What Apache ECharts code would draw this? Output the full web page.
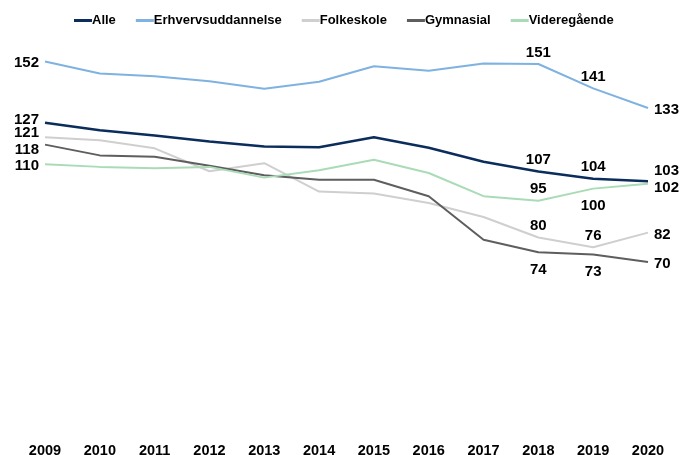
<!DOCTYPE html>
<html>
<head>
<meta charset="utf-8">
<script src="https://cdn.jsdelivr.net/npm/echarts@6/dist/echarts.min.js"></script>
<style>
  html, body { margin: 0; padding: 0; background: #fff; }
  #chart { width: 685px; height: 455px; }
</style>
</head>
<body>
<div id="chart"></div>
<script>
const years = ['2009', '2010', '2011', '2012', '2013', '2014', '2015', '2016', '2017', '2018', '2019', '2020'];
const seriesNames = ['Alle', 'Erhvervsuddannelse', 'Folkeskole', 'Gymnasial', 'Videregående'];
const alle = [127, 123.9, 121.7, 119.3, 117.2, 116.9, 121, 116.7, 111, 107, 104, 103];
const erhverv = [152, 147.1, 146, 143.9, 140.9, 143.7, 150.1, 148.2, 151.2, 151, 141, 133];
const folkeskole = [121, 119.8, 116.5, 107.1, 110.4, 98.8, 98, 94.1, 88.4, 80, 76, 82];
const gymnasial = [118, 113.6, 113, 109.4, 105.5, 103.6, 103.6, 96.9, 79.1, 74, 73, 70];
const videregaende = [110, 108.9, 108.3, 108.9, 104.5, 107.5, 111.8, 106.4, 96.9, 95, 100, 102];

const colors = ['#0b2d5c', '#7fb2e0', '#cfcfcf', '#5e5e5e', '#a9dcb6'];
const widths = [2.5, 2, 2, 2, 2];

// which points get a value label, and where: [index, position, offsetY]
const labelSpots = [
    [[0, 'left', -3], [9, 'top', 0], [10, 'top', 0], [11, 'right', -10]],
    [[0, 'left', 1], [9, 'top', 0], [10, 'top', 0], [11, 'right', 2]],
    [[0, 'left', -4], [9, 'top', 0], [10, 'top', 0], [11, 'right', 2]],
    [[0, 'left', 5], [9, 'bottom', 0], [10, 'bottom', 0], [11, 'right', 2]],
    [[0, 'left', 2], [9, 'top', 0], [10, 'bottom', 0], [11, 'right', 4]]
];

const font = "'Liberation Sans', Arial, sans-serif";
const allValues = [alle, erhverv, folkeskole, gymnasial, videregaende];

const series = allValues.map((vals, s) => {
    const spots = {};
    labelSpots[s].forEach(([i, pos, dy]) => { spots[i] = [pos, dy]; });
    return {
        name: seriesNames[s],
        type: 'line',
        symbol: 'circle',
        symbolSize: 0,
        showSymbol: true,
        color: colors[s],
        lineStyle: { width: widths[s], color: colors[s] },
        z: s === 0 ? 5 : 2,
        data: vals.map((v, i) => {
            if (!spots[i]) return v;
            const pos = spots[i][0];
            return {
                value: v,
                label: {
                    show: true,
                    position: pos,
                    offset: [0, spots[i][1]],
                    distance: pos === 'top' ? 4 : pos === 'bottom' ? 10 : 6,
                    formatter: () => Math.round(v),
                    color: '#000',
                    fontSize: 15,
                    fontWeight: 'bold',
                    fontFamily: font
                }
            };
        })
    };
});

const chart = echarts.init(document.getElementById('chart'));
chart.setOption({
    animation: false,
    backgroundColor: '#fff',
    legend: {
        top: 9,
        left: 69,
        icon: 'rect',
        itemWidth: 18,
        itemHeight: 3,
        itemGap: 20,
        textStyle: { color: '#000', fontSize: 13, fontWeight: 'bold', fontFamily: font, padding: [0, 0, 0, -5] },
        data: seriesNames
    },
    grid: { left: 45, right: 37, top: 42, bottom: 22, containLabel: false, outerBoundsMode: 'none' },
    xAxis: {
        type: 'category',
        boundaryGap: false,
        data: years,
        axisLine: { show: false },
        axisTick: { show: false },
        axisLabel: { color: '#000', fontSize: 14.5, fontWeight: 'bold', fontFamily: font, margin: 10 }
    },
    yAxis: {
        type: 'value',
        min: 0,
        max: 160,
        show: false,
        splitLine: { show: false }
    },
    series: series
});
</script>
</body>
</html>
